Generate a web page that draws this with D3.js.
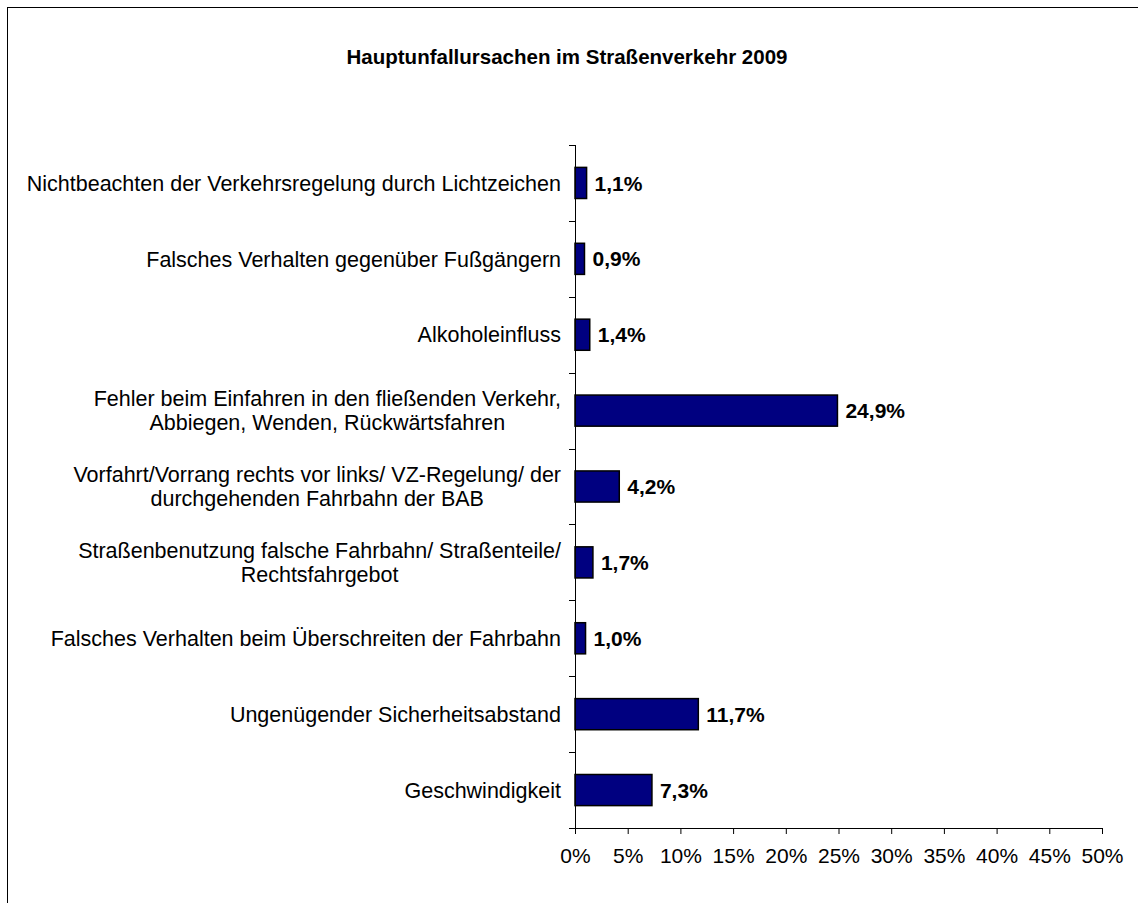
<!DOCTYPE html>
<html>
<head>
<meta charset="utf-8">
<script src="https://cdn.jsdelivr.net/npm/d3@7"></script>
<style>
  body { margin: 0; background: #fff; }
  text { font-family: "Liberation Sans", Arial, sans-serif; fill: #000; }
</style>
</head>
<body>
<div id="chart"></div>
<script>
var width = 1138;
var height = 903;

var chartTitle = "Hauptunfallursachen im Straßenverkehr 2009";

// categories top to bottom, each as lines of text
var categories = [
  ["Nichtbeachten der Verkehrsregelung durch Lichtzeichen"],
  ["Falsches Verhalten gegenüber Fußgängern"],
  ["Alkoholeinfluss"],
  ["Fehler beim Einfahren in den fließenden Verkehr,", "Abbiegen, Wenden, Rückwärtsfahren"],
  ["Vorfahrt/Vorrang rechts vor links/ VZ-Regelung/ der", "durchgehenden Fahrbahn der BAB"],
  ["Straßenbenutzung falsche Fahrbahn/ Straßenteile/", "Rechtsfahrgebot"],
  ["Falsches Verhalten beim Überschreiten der Fahrbahn"],
  ["Ungenügender Sicherheitsabstand"],
  ["Geschwindigkeit"]
];
var values = [1.1, 0.9, 1.4, 24.9, 4.2, 1.7, 1.0, 11.7, 7.3];
var xTicks = [0, 5, 10, 15, 20, 25, 30, 35, 40, 45, 50];

var svg = d3.select("#chart")
  .append("svg")
  .attr("width", width)
  .attr("height", height);

// outer frame
svg.append("rect")
  .attr("x", 7.5).attr("y", 7.5)
  .attr("width", width + 20).attr("height", height + 20)
  .attr("fill", "#fff")
  .attr("stroke", "#000")
  .attr("stroke-width", 1);

svg.append("text")
  .attr("x", 567).attr("y", 64)
  .attr("text-anchor", "middle")
  .style("font-size", "20.5px")
  .style("font-weight", "bold")
  .text(chartTitle);

var plotLeft = 575, plotRight = 1102, plotTop = 145, plotBottom = 828;

var xScale = d3.scaleLinear().domain([0, 50]).range([plotLeft, plotRight]);
var idx = d3.range(categories.length);
var yScale = d3.scaleBand().domain(idx).range([plotTop, plotBottom])
  .paddingInner(0.59).paddingOuter(0.295);

// bars
svg.selectAll("rect.bar")
  .data(values)
  .enter()
  .append("rect")
  .attr("class", "bar")
  .attr("x", xScale(0))
  .attr("y", function(d, i) { return yScale(i); })
  .attr("width", function(d) { return xScale(d) - xScale(0); })
  .attr("height", yScale.bandwidth())
  .attr("fill", "#000080")
  .attr("stroke", "#000")
  .attr("stroke-width", 1.5);

// value labels
svg.selectAll("text.val")
  .data(values)
  .enter()
  .append("text")
  .attr("class", "val")
  .attr("x", function(d) { return xScale(d) + 8; })
  .attr("y", function(d, i) { return yScale(i) + yScale.bandwidth() / 2; })
  .attr("dy", "0.36em")
  .style("font-size", "21px")
  .style("font-weight", "bold")
  .text(function(d) { return d.toFixed(1).replace(".", ",") + "%"; });

// x axis
var xAxis = d3.axisBottom(xScale)
  .tickValues(xTicks)
  .tickSize(6)
  .tickFormat(function(d) { return d + "%"; });

var gx = svg.append("g")
  .attr("transform", "translate(0," + plotBottom + ")")
  .call(xAxis);
gx.select(".domain").attr("stroke", "#000").attr("d", "M" + plotLeft + ",0.5H" + plotRight);
gx.selectAll(".tick line").attr("stroke", "#000");
gx.selectAll(".tick text")
  .attr("y", 20)
  .style("font-size", "21px")
  .style("font-family", "'Liberation Sans', Arial, sans-serif")
  .attr("fill", "#000");

// y axis line and tick marks at category boundaries
svg.append("line")
  .attr("x1", plotLeft + 0.5).attr("x2", plotLeft + 0.5)
  .attr("y1", plotTop).attr("y2", plotBottom)
  .attr("stroke", "#000");

var step = yScale.step();
svg.selectAll("line.ytick")
  .data(d3.range(categories.length + 1))
  .enter()
  .append("line")
  .attr("class", "ytick")
  .attr("x1", plotLeft - 6).attr("x2", plotLeft)
  .attr("y1", function(d) { return Math.round(plotTop + d * step) + 0.5; })
  .attr("y2", function(d) { return Math.round(plotTop + d * step) + 0.5; })
  .attr("stroke", "#000");

// category labels: block right-aligned, lines centered in block
var labelRight = 561;
var lineH = 24;
categories.forEach(function(lines, i) {
  var cy = yScale(i) + yScale.bandwidth() / 2;
  var g = svg.append("g");
  var texts = g.selectAll("text")
    .data(lines)
    .enter()
    .append("text")
    .attr("y", function(d, j) { return cy + (j - (lines.length - 1) / 2) * lineH; })
    .attr("dy", "0.36em")
    .attr("text-anchor", "middle")
    .style("font-size", "21.5px")
    .text(function(d) { return d; });
  var maxW = d3.max(texts.nodes(), function(n) { return n.getComputedTextLength(); });
  texts.attr("x", labelRight - maxW / 2);
});
</script>
</body>
</html>
